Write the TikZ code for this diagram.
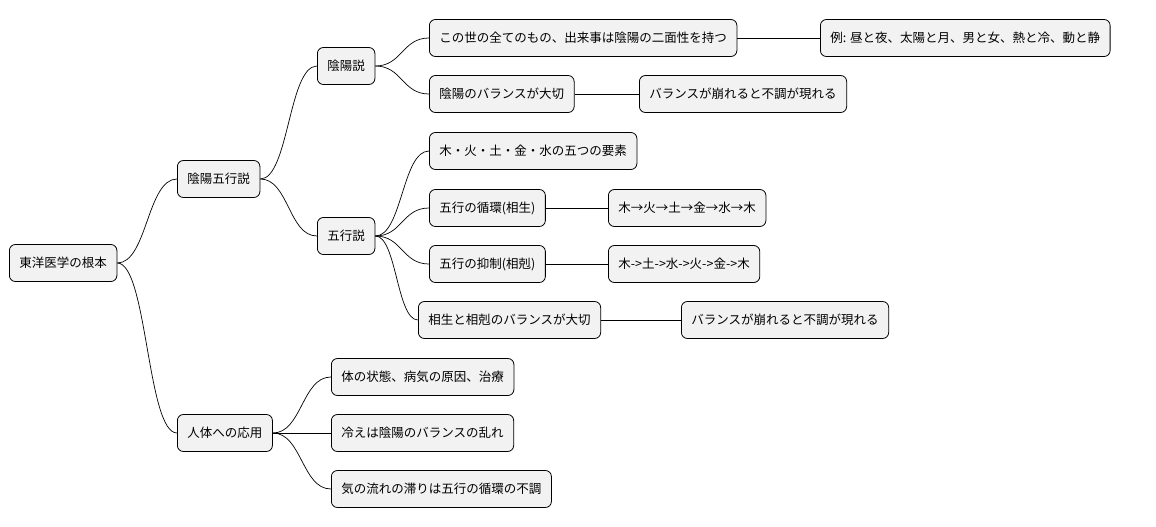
\documentclass[tikz,border=0pt]{standalone}
\usepackage{fontspec}
\setmainfont{Noto Sans CJK JP}
\usetikzlibrary{calc}
\begin{document}
\begin{tikzpicture}[x=1pt,y=-1pt,
  box/.style={draw=black,fill=black!5,rounded corners=6pt,minimum height=37pt,inner xsep=10pt,anchor=west,font=\fontsize{12.5}{14}\selectfont,line width=0.8pt},
  con/.style={draw=black,line width=0.7pt}]
\useasboundingbox (0,0) rectangle (1156,527);
\node[box] (r) at (9,263) {東洋医学の根本};
\node[box] (a) at (177,179) {陰陽五行説};
\node[box] (b) at (177,433) {人体への応用};
\node[box] (a1) at (317,66) {陰陽説};
\node[box] (a2) at (317,236) {五行説};
\node[box] (a11) at (429,38) {この世の全てのもの、出来事は陰陽の二面性を持つ};
\node[box] (a111) at (820,38) {例: 昼と夜、太陽と月、男と女、熱と冷、動と静};
\node[box] (a12) at (429,94) {陰陽のバランスが大切};
\node[box] (a121) at (639,94) {バランスが崩れると不調が現れる};
\node[box] (a21) at (429,151) {木・火・土・金・水の五つの要素};
\node[box] (a22) at (429,208) {五行の循環(相生)};
\node[box] (a221) at (608,208) {木→火→土→金→水→木};
\node[box] (a23) at (429,264) {五行の抑制(相剋)};
\node[box] (a231) at (608,264) {木->土->水->火->金->木};
\node[box] (a24) at (418,320) {相生と相剋のバランスが大切};
\node[box] (a241) at (681,320) {バランスが崩れると不調が現れる};
\node[box] (b1) at (331,377) {体の状態、病気の原因、治療};
\node[box] (b2) at (331,433) {冷えは陰陽のバランスの乱れ};
\node[box] (b3) at (331,489) {気の流れの滞りは五行の循環の不調};
\foreach \aa/\bb in {r/a,r/b,a/a1,a/a2,a1/a11,a1/a12,a11/a111,a12/a121,a2/a21,a2/a22,a2/a23,a2/a24,a22/a221,a23/a231,a24/a241,b/b1,b/b2,b/b3}{
  \path[con] let \p1=(\aa.east), \p2=(\bb.west) in
    (\p1) .. controls ({(\x1+\x2)/2},\y1) and ({(\x1+\x2)/2},\y2) .. (\p2);
}
\end{tikzpicture}
\end{document}
